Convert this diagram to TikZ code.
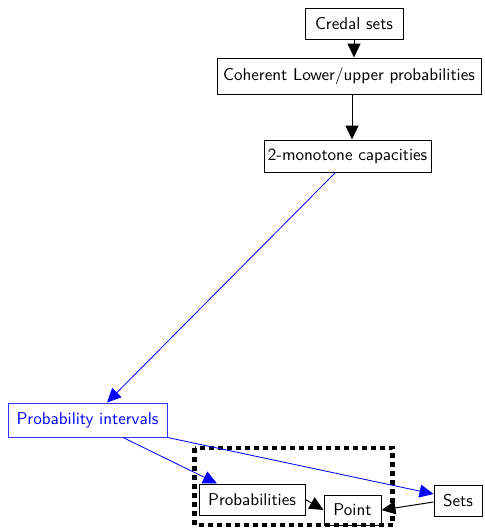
\documentclass[tikz,border=0pt]{standalone}
\usetikzlibrary{arrows.meta}
\renewcommand{\familydefault}{\sfdefault}
\begin{document}
\begin{tikzpicture}[x=0.6pt,y=-0.6pt,
  box/.style={draw,line width=0.6pt,inner sep=0pt,font=\sffamily\fontsize{10.25}{12}\selectfont},
  edge/.style={line width=0.6pt,-{Triangle[length=8.4pt,width=7.8pt]}},
  bedge/.style={edge,blue,line width=0.5pt}]
\useasboundingbox (0,0) rectangle (484,528);
% nodes
\node[box,minimum width=98*0.6pt,minimum height=31*0.6pt] (credal) at (354,23.5) {Credal sets};
\node[box,minimum width=264*0.6pt,minimum height=36*0.6pt] (coh) at (349,76) {Coherent Lower/upper probabilities};
\node[box,minimum width=167*0.6pt,minimum height=32*0.6pt] (mono) at (347.5,156) {2-monotone capacities};
\node[box,draw=blue!80,text=blue,minimum width=159*0.6pt,minimum height=34*0.6pt] (pint) at (87.5,420) {Probability intervals};
\node[box,minimum width=106*0.6pt,minimum height=31*0.6pt] (prob) at (252,499.5) {Probabilities};
\node[box,minimum width=57*0.6pt,minimum height=30*0.6pt] (point) at (352.5,510) {Point};
\node[box,minimum width=48*0.6pt,minimum height=31*0.6pt] (sets) at (458,500.5) {Sets};
% dotted frame around the precise models
\coordinate (fa) at (194.5,448);
\coordinate (fb) at (392.5,525);
\draw[line width=2.7pt,dash pattern=on 3pt off 2.4pt] (fa) rectangle (fb);
% connector end points
\coordinate (c1) at (credal.south);
\coordinate (c2) at (credal.south |- coh.north);
\coordinate (h1) at ([xshift=3*0.6pt]coh.south);
\coordinate (h2) at ([xshift=4.5*0.6pt]mono.north);
\coordinate (m1) at ([xshift=-12*0.6pt]mono.south);
\coordinate (p1) at ([xshift=19.5*0.6pt]pint.north);
\coordinate (p2) at ([xshift=35.5*0.6pt]pint.south);
\coordinate (r1) at ([xshift=-35*0.6pt]prob.north);
\coordinate (s1) at ([yshift=6.5*0.6pt]sets.west);
\coordinate (s2) at ([yshift=-1.5*0.6pt]sets.west);
% connectors
\draw[edge] (c1) -- (c2);
\draw[edge] (h1) -- (h2);
\draw[bedge] (m1) -- (p1);
\draw[bedge] (p2) -- (r1);
\draw[bedge] (pint.south east) -- (s1);
\draw[edge] (prob.east) -- (point.west);
\draw[edge] (s2) -- (point.east);
\end{tikzpicture}
\end{document}
